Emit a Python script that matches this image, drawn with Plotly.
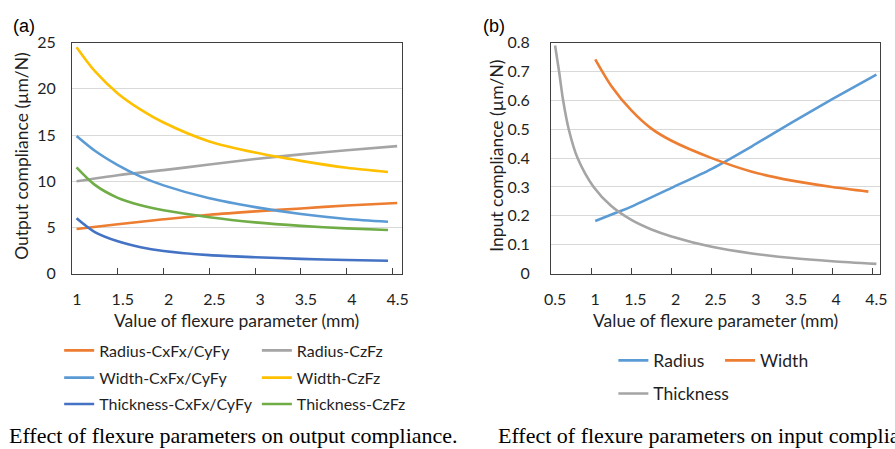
import plotly.graph_objects as go

W, H = 895, 449

# ---------------- data: panel (a) output compliance (um/N) ----------------
x_rad_a = [1.05, 1.5, 2.0, 2.5, 3.0, 3.5, 4.0, 4.55]
radius_cxfx = [4.83, 5.35, 5.88, 6.37, 6.74, 7.05, 7.38, 7.65]
radius_czfz = [10.0, 10.65, 11.2, 11.8, 12.4, 12.9, 13.35, 13.8]

x_dec_a = [1.05, 1.25, 1.5, 1.75, 2.0, 2.5, 3.0, 3.5, 4.0, 4.45]
width_cxfx = [14.9, 13.3, 11.75, 10.5, 9.55, 8.15, 7.2, 6.45, 5.92, 5.62]
width_czfz = [24.5, 21.9, 19.5, 17.75, 16.35, 14.3, 13.1, 12.2, 11.45, 11.0]
thick_cxfx = [6.0, 4.5, 3.5, 2.85, 2.45, 2.0, 1.78, 1.6, 1.47, 1.4]
thick_czfz = [11.5, 9.6, 8.2, 7.4, 6.85, 6.1, 5.55, 5.17, 4.9, 4.72]

# ---------------- data: panel (b) input compliance (um/N) ----------------
x_radius_b = [1.05, 1.34, 1.5, 2.0, 2.5, 3.0, 3.5, 4.0, 4.55]
radius_b = [0.182, 0.214, 0.232, 0.297, 0.363, 0.441, 0.524, 0.604, 0.689]
x_width_b = [1.05, 1.25, 1.5, 1.75, 2.0, 2.5, 3.0, 3.5, 4.0, 4.45]
width_b = [0.742, 0.65, 0.565, 0.502, 0.46, 0.40, 0.353, 0.322, 0.30, 0.284]
x_thick_b = [0.55, 0.6, 0.65, 0.72, 0.83, 1.03, 1.25, 1.5, 1.75, 2.0, 2.5, 3.0, 3.5, 4.0, 4.55]
thick_b = [0.79, 0.70, 0.60, 0.50, 0.40, 0.30, 0.234, 0.186, 0.153, 0.129, 0.093, 0.070, 0.054, 0.043, 0.034]

# tick labels
ticks_a = [1, 1.5, 2, 2.5, 3, 3.5, 4, 4.5]
ticks_b = [0.5, 1, 1.5, 2, 2.5, 3, 3.5, 4, 4.5]

ORANGE, GRAY, LBLUE, YELLOW, DBLUE, GREEN = "#ED7D31", "#A5A5A5", "#5B9BD5", "#FFC000", "#4472C4", "#70AD47"
FONT = "Lato"
TXT = "#1f1f1f"
LW = 2.6


def px(v):
    return v / W


def py(v):
    return (H - v) / H


fig = go.Figure()


def add(x, y, name, color, xa, ya, legend):
    fig.add_trace(go.Scatter(x=x, y=y, name=name, mode="lines",
                             line=dict(color=color, width=LW, shape="spline", smoothing=0.8),
                             xaxis=xa, yaxis=ya, legend=legend))


add(x_rad_a, radius_cxfx, "Radius-CxFx/CyFy", ORANGE, "x", "y", "legend")
add(x_rad_a, radius_czfz, "Radius-CzFz", GRAY, "x", "y", "legend")
add(x_dec_a, width_cxfx, "Width-CxFx/CyFy", LBLUE, "x", "y", "legend2")
add(x_dec_a, width_czfz, "Width-CzFz", YELLOW, "x", "y", "legend2")
add(x_dec_a, thick_cxfx, "Thickness-CxFx/CyFy", DBLUE, "x", "y", "legend3")
add(x_dec_a, thick_czfz, "Thickness-CzFz", GREEN, "x", "y", "legend3")

add(x_radius_b, radius_b, "Radius", LBLUE, "x2", "y2", "legend4")
add(x_width_b, width_b, "Width", ORANGE, "x2", "y2", "legend4")
add(x_thick_b, thick_b, "Thickness", GRAY, "x2", "y2", "legend5")

top, bot = 34.0, 275.3
ydom = [py(bot), py(top)]

axis_common = dict(showline=True, mirror=True, linecolor="#3f3f3f", linewidth=1,
                   tickfont=dict(family=FONT, size=16, color=TXT), zeroline=False)

fig.update_layout(
    width=W, height=H, margin=dict(l=0, r=0, t=0, b=0),
    paper_bgcolor="white", plot_bgcolor="white",
    xaxis=dict(domain=[px(66), px(401)], range=[1, 4.6], tickvals=ticks_a,
               ticks="inside", ticklen=6, tickcolor="#3f3f3f", showgrid=False,
               ticklabelstandoff=11, ticklabelshift=5, anchor="y", **axis_common),
    yaxis=dict(domain=ydom, range=[0, 25], dtick=5, ticks="", showgrid=True,
               gridcolor="#d9d9d9", gridwidth=1, ticklabelstandoff=12, anchor="x", **axis_common),
    xaxis2=dict(domain=[px(552.7), px(887.3)], range=[0.5, 4.6], tickvals=ticks_b,
                ticks="inside", ticklen=6, tickcolor="#3f3f3f", showgrid=False,
                ticklabelstandoff=11, ticklabelshift=4, anchor="y2", **axis_common),
    yaxis2=dict(domain=ydom, range=[0, 0.8], dtick=0.1, ticks="", showgrid=True,
                gridcolor="#d9d9d9", gridwidth=1, ticklabelstandoff=17, anchor="x2", **axis_common),
    showlegend=True,
)

leg_common = dict(orientation="h", xanchor="left", yanchor="middle",
                  bgcolor="rgba(0,0,0,0)", tracegroupgap=0, itemclick=False)
fleft = dict(family=FONT, size=16, color=TXT)
fright = dict(family=FONT, size=17.5, color=TXT)
fig.update_layout(
    legend=dict(x=px(53), y=py(355.5), entrywidth=152.7, font=fleft, **leg_common),
    legend2=dict(x=px(53), y=py(384), entrywidth=152.7, font=fleft, **leg_common),
    legend3=dict(x=px(53), y=py(411.5), entrywidth=152.7, font=fleft, **leg_common),
    legend4=dict(x=px(616), y=py(366), entrywidth=61.7, font=fright, **leg_common),
    legend5=dict(x=px(616), y=py(400.5), entrywidth=120, font=fright, **leg_common),
)

ann = []
# axis titles
ann.append(dict(text="Value of flexure parameter (mm)", x=px(233.5), y=py(324), xanchor="center",
                yanchor="middle", font=dict(family=FONT, size=17.5, color=TXT)))
ann.append(dict(text="Value of flexure parameter (mm)", x=px(720), y=py(324), xanchor="center",
                yanchor="middle", font=dict(family=FONT, size=17.5, color=TXT)))
ann.append(dict(text="Output compliance (\u00b5m/N)", x=px(14.5), y=py(152), xanchor="center",
                yanchor="middle", textangle=-90, font=dict(family=FONT, size=17.5, color=TXT)))
ann.append(dict(text="Input compliance (\u00b5m/N)", x=px(497), y=py(152), xanchor="center",
                yanchor="middle", textangle=-90, font=dict(family=FONT, size=17.5, color=TXT)))
# panel labels
ann.append(dict(text="(a)", x=px(4), y=py(17), xanchor="left", yanchor="middle",
                font=dict(family="Liberation Sans", size=18, color="black")))
ann.append(dict(text="(b)", x=px(482), y=py(17), xanchor="left", yanchor="middle",
                font=dict(family="Liberation Sans", size=18, color="black")))
# captions
ann.append(dict(text="Effect of flexure parameters on output compliance.", x=px(0), y=py(444),
                xanchor="left", yanchor="middle", font=dict(family="Liberation Serif", size=22, color="black")))
ann.append(dict(text="Effect of flexure parameters on input compliance.", x=px(497), y=py(444),
                xanchor="left", yanchor="middle", font=dict(family="Liberation Serif", size=22, color="black")))
for a in ann:
    a.update(xref="paper", yref="paper", showarrow=False)
fig.update_layout(annotations=ann)

fig.write_html("out.html")
